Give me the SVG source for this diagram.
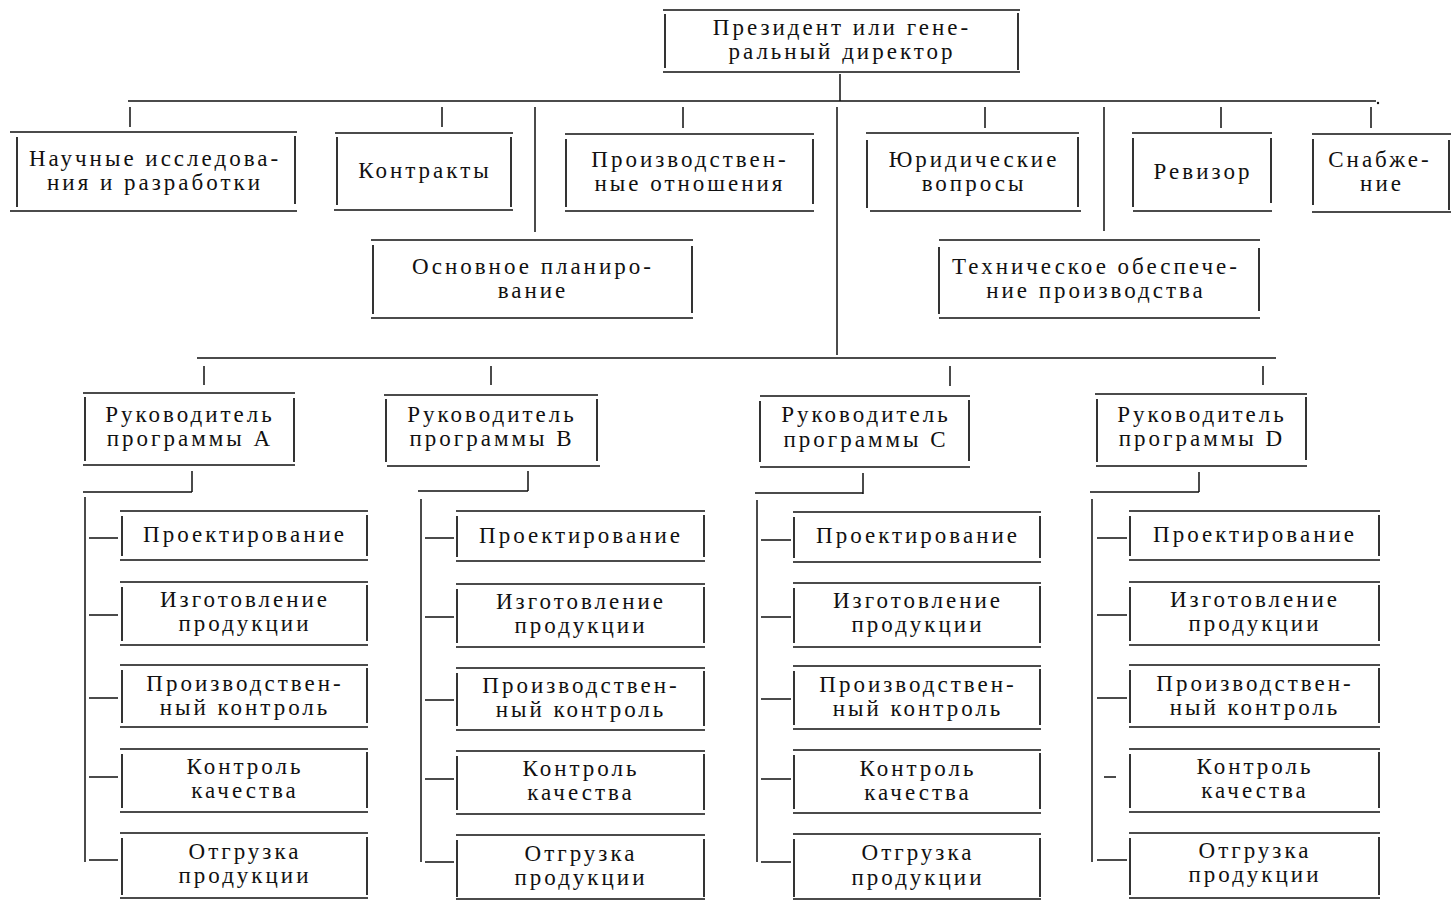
<svg xmlns="http://www.w3.org/2000/svg" width="1451" height="900" viewBox="0 0 1451 900">
<style>
.bx{fill:none;stroke:#111;stroke-width:1.7}
.ln{fill:none;stroke:#111;stroke-width:1.5}
text{font-family:"Liberation Serif","DejaVu Serif",serif;font-size:23px;fill:#111;text-anchor:middle;letter-spacing:3px}
</style>
<rect width="1451" height="900" fill="#fff"/>
<g id="connectors" class="ln">
<path d="M128 101H1376M840 74V101"/>
<circle cx="1378" cy="103" r="1.2" fill="#111" stroke="none"/>
<path d="M130 107V127M442 107V127M683 107V128M985 107V128M1221 107V128M1371 107V128"/>
<path d="M535 107V232M837 107V355M1104 107V231"/>
<path d="M197 358H1276M204 366V385M491 366V385M950 366V386M1263 366V385"/>
<path d="M192 471V492M83 492H192M85 497V862"/>
<path d="M528 471V491M418 491H528M421 499V862"/>
<path d="M863 473V494M755 493H863M757 500V862"/>
<path d="M1199 472V492M1090 492H1199M1092 499V862"/>
<path d="M89 538H118M89 615H118M89 698H118M89 777H118M89 860H118"/>
<path d="M425 538H454M425 617H454M425 700H454M425 779H454M425 862H454"/>
<path d="M761 540H791M761 617H791M761 699H791M761 779H791M761 862H791"/>
<path d="M1097 538H1127M1097 615H1127M1097 698H1127M1104 777H1116M1097 860H1127"/>
</g>
<g id="n-president"><path class="bx" d="M663 10H1020M663 72H1020M665 14V68M1018 13V70"/><text x="842" y="35">Президент или гене-</text><text x="842" y="59">ральный директор</text></g>
<g id="n-research"><path class="bx" d="M10 132H297M10 211H297M17 137V207M295 136V204"/><text x="155" y="166">Научные исследова-</text><text x="155" y="190">ния и разработки</text></g>
<g id="n-contracts"><path class="bx" d="M335 133H513M334 210H513M337 137V205M511 137V207"/><text x="425" y="178">Контракты</text></g>
<g id="n-industrial"><path class="bx" d="M565 134H814M565 211H814M566 139V207M813 139V204"/><text x="690" y="167">Производствен-</text><text x="690" y="191">ные отношения</text></g>
<g id="n-legal"><path class="bx" d="M866 133H1079M870 211H1081M867 140V208M1078 137V207"/><text x="974" y="167">Юридические</text><text x="974" y="191">вопросы</text></g>
<g id="n-auditor"><path class="bx" d="M1132 133H1272M1133 211H1272M1133 138V207M1271 138V203"/><text x="1203" y="179">Ревизор</text></g>
<g id="n-supply"><path class="bx" d="M1312 134H1451M1312 212H1451M1313 139V205M1449 140V210"/><text x="1380" y="167">Снабже-</text><text x="1382" y="191">ние</text></g>
<g id="n-planning"><path class="bx" d="M371 240H693M371 318H693M373 245V314M692 246V313"/><text x="533" y="274">Основное планиро-</text><text x="533" y="298">вание</text></g>
<g id="n-techsupport"><path class="bx" d="M939 240H1260M939 318H1260M939 247V314M1259 248V311"/><text x="1096" y="274">Техническое обеспече-</text><text x="1096" y="298">ние производства</text></g>
<g id="n-mgr-a"><path class="bx" d="M83 393H295M83 465H295M85 397V461M294 398V462"/><text x="190" y="422">Руководитель</text><text x="190" y="446">программы A</text></g>
<g id="n-mgr-b"><path class="bx" d="M384 395H598M387 466H600M386 399V462M597 399V461"/><text x="492" y="422">Руководитель</text><text x="492" y="446">программы B</text></g>
<g id="n-mgr-c"><path class="bx" d="M760 396H970M760 467H970M760 401V462M969 400V461"/><text x="866" y="422">Руководитель</text><text x="866" y="447">программы C</text></g>
<g id="n-mgr-d"><path class="bx" d="M1095 394H1307M1096 466H1307M1097 399V462M1306 397V460"/><text x="1202" y="422">Руководитель</text><text x="1202" y="446">программы D</text></g>
<g id="n-a-design"><path class="bx" d="M120 511H368M120 560H368M122 516V556M367 515V556"/><text x="245" y="542">Проектирование</text></g>
<g id="n-a-mfg"><path class="bx" d="M120 582H368M120 645H368M122 587V641M367 585V641"/><text x="245" y="607">Изготовление</text><text x="245" y="631">продукции</text></g>
<g id="n-a-pc"><path class="bx" d="M120 665H368M120 727H368M122 670V723M367 668V723"/><text x="245" y="691">Производствен-</text><text x="245" y="715">ный контроль</text></g>
<g id="n-a-qc"><path class="bx" d="M120 749H368M120 812H368M122 754V808M367 752V808"/><text x="245" y="774">Контроль</text><text x="245" y="798">качества</text></g>
<g id="n-a-ship"><path class="bx" d="M120 833H368M120 898H368M122 838V895M367 837V895"/><text x="245" y="859">Отгрузка</text><text x="245" y="883">продукции</text></g>
<g id="n-b-design"><path class="bx" d="M456 511H705M456 561H705M457 516V557M704 515V557"/><text x="581" y="543">Проектирование</text></g>
<g id="n-b-mfg"><path class="bx" d="M456 584H705M456 647H705M457 589V643M704 587V643"/><text x="581" y="609">Изготовление</text><text x="581" y="633">продукции</text></g>
<g id="n-b-pc"><path class="bx" d="M456 668H705M456 730H705M457 673V726M704 671V726"/><text x="581" y="693">Производствен-</text><text x="581" y="717">ный контроль</text></g>
<g id="n-b-qc"><path class="bx" d="M456 751H705M456 814H705M457 756V810M704 754V810"/><text x="581" y="776">Контроль</text><text x="581" y="800">качества</text></g>
<g id="n-b-ship"><path class="bx" d="M456 835H705M456 899H705M457 840V897M704 839V897"/><text x="581" y="861">Отгрузка</text><text x="581" y="885">продукции</text></g>
<g id="n-c-design"><path class="bx" d="M793 512H1041M793 562H1041M794 517V558M1040 516V558"/><text x="918" y="543">Проектирование</text></g>
<g id="n-c-mfg"><path class="bx" d="M793 583H1041M793 647H1041M794 588V643M1040 586V643"/><text x="918" y="608">Изготовление</text><text x="918" y="632">продукции</text></g>
<g id="n-c-pc"><path class="bx" d="M793 666H1041M793 729H1041M794 671V725M1040 669V725"/><text x="918" y="692">Производствен-</text><text x="918" y="716">ный контроль</text></g>
<g id="n-c-qc"><path class="bx" d="M793 750H1041M793 813H1041M794 755V809M1040 753V809"/><text x="918" y="776">Контроль</text><text x="918" y="800">качества</text></g>
<g id="n-c-ship"><path class="bx" d="M793 834H1041M793 899H1041M794 839V897M1040 838V897"/><text x="918" y="860">Отгрузка</text><text x="918" y="885">продукции</text></g>
<g id="n-d-design"><path class="bx" d="M1129 511H1380M1129 560H1380M1130 516V556M1379 515V556"/><text x="1255" y="542">Проектирование</text></g>
<g id="n-d-mfg"><path class="bx" d="M1129 582H1380M1129 645H1380M1130 587V641M1379 585V641"/><text x="1255" y="607">Изготовление</text><text x="1255" y="631">продукции</text></g>
<g id="n-d-pc"><path class="bx" d="M1129 665H1380M1129 727H1380M1130 670V723M1379 668V723"/><text x="1255" y="691">Производствен-</text><text x="1255" y="715">ный контроль</text></g>
<g id="n-d-qc"><path class="bx" d="M1129 749H1380M1129 812H1380M1130 754V808M1379 752V808"/><text x="1255" y="774">Контроль</text><text x="1255" y="798">качества</text></g>
<g id="n-d-ship"><path class="bx" d="M1129 833H1380M1129 898H1380M1130 838V895M1379 837V895"/><text x="1255" y="858">Отгрузка</text><text x="1255" y="882">продукции</text></g>
</svg>
